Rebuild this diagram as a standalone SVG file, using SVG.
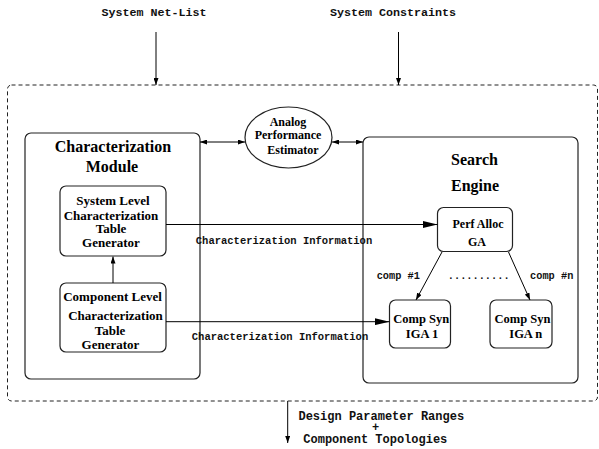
<svg xmlns="http://www.w3.org/2000/svg" width="599" height="449" viewBox="0 0 599 449">
<style>
.box{fill:none;stroke:#222;stroke-width:1.2}
.mono{font-family:"Liberation Mono","Courier New",monospace;font-weight:bold;fill:#111}
.serif{font-family:"Liberation Serif","Times New Roman",serif;font-weight:bold;fill:#000;text-anchor:middle}
.ln{fill:none;stroke:#000;stroke-width:1}
</style>
<defs>
<marker id="big" markerUnits="userSpaceOnUse" viewBox="0 0 15 7" refX="15" refY="3.5" markerWidth="15" markerHeight="7" orient="auto"><path d="M0,0 L15,3.5 L0,7 z" fill="#000"/></marker>
<marker id="sm" markerUnits="userSpaceOnUse" viewBox="0 0 7 5" refX="7" refY="2.5" markerWidth="7" markerHeight="5" orient="auto-start-reverse"><path d="M0,0 L7,2.5 L0,5 z" fill="#000"/></marker>
</defs>
<rect id="system-boundary" x="7.5" y="85" width="590" height="316" rx="4" fill="none" stroke="#222" stroke-width="1" stroke-dasharray="4,3"/>
<g id="inputs">
<text class="mono" x="154" y="15.5" font-size="11.7" text-anchor="middle">System Net-List</text>
<text class="mono" x="393" y="15.5" font-size="11.7" text-anchor="middle">System Constraints</text>
</g>
<g id="characterization-module">
<rect class="box" x="25" y="133" width="175" height="246" rx="6"/>
<text class="serif" x="113" y="152.3" font-size="16">Characterization</text>
<text class="serif" x="112" y="172" font-size="16">Module</text>
</g>
<g id="system-level-generator">
<rect class="box" x="60" y="186" width="106" height="70" rx="6"/>
<text class="serif" font-size="13"><tspan x="113" y="205.3">System Level</tspan><tspan x="111" y="219.5">Characterization</tspan><tspan x="111" y="232.8">Table</tspan><tspan x="111" y="247.2">Generator</tspan></text>
</g>
<g id="component-level-generator">
<rect class="box" x="60" y="283" width="106" height="69" rx="6"/>
<text class="serif" font-size="13"><tspan x="112.5" y="301.2">Component Level</tspan><tspan x="115.5" y="320.2">Characterization</tspan><tspan x="110" y="334.5">Table</tspan><tspan x="110.5" y="348.5">Generator</tspan></text>
</g>
<g id="performance-estimator">
<ellipse class="box" cx="288.5" cy="137.5" rx="43.5" ry="30.5"/>
<text class="serif" font-size="12"><tspan x="288" y="125.5">Analog</tspan><tspan x="288" y="139">Performance</tspan><tspan x="293" y="154">Estimator</tspan></text>
</g>
<g id="search-engine">
<rect class="box" x="363" y="137" width="215" height="246" rx="6"/>
<text class="serif" x="474.5" y="165" font-size="16">Search</text>
<text class="serif" x="475" y="190.6" font-size="16">Engine</text>
</g>
<g id="perf-alloc-ga">
<rect class="box" x="437.5" y="207.5" width="75" height="44" rx="6"/>
<text class="serif" font-size="12"><tspan x="478" y="227.5">Perf Alloc</tspan><tspan x="477" y="246">GA</tspan></text>
</g>
<g id="comp-syn-iga-1">
<rect class="box" x="389.5" y="300" width="61" height="48" rx="6"/>
<text class="serif" font-size="12.5"><tspan x="421.3" y="323.4">Comp Syn</tspan><tspan x="422" y="337.7">IGA 1</tspan></text>
</g>
<g id="comp-syn-iga-n">
<rect class="box" x="490" y="300" width="62" height="48" rx="6"/>
<text class="serif" font-size="12.5"><tspan x="522.5" y="323.4">Comp Syn</tspan><tspan x="525.8" y="337.7">IGA n</tspan></text>
</g>
<g id="connectors">
<line class="ln" x1="156" y1="32" x2="156" y2="85" marker-end="url(#sm)"/>
<line class="ln" x1="398.5" y1="32" x2="398.5" y2="85" marker-end="url(#sm)"/>
<line class="ln" x1="200" y1="142" x2="245" y2="142" marker-start="url(#sm)" marker-end="url(#sm)"/>
<line class="ln" x1="332" y1="142" x2="363" y2="142" marker-start="url(#sm)" marker-end="url(#sm)"/>
<line class="ln" x1="113" y1="283" x2="113" y2="256.5" marker-end="url(#sm)"/>
<line class="ln" x1="166" y1="224.5" x2="437.5" y2="224.5" marker-end="url(#big)"/>
<line class="ln" x1="166" y1="321.7" x2="389.5" y2="321.7" marker-end="url(#big)"/>
<line class="ln" x1="442" y1="252" x2="416" y2="300" marker-end="url(#sm)"/>
<line class="ln" x1="508.5" y1="252" x2="530" y2="300" marker-end="url(#sm)"/>
<line class="ln" x1="287.7" y1="401" x2="287.7" y2="443" marker-end="url(#sm)"/>
<text class="mono" x="284" y="243.5" font-size="10.5" text-anchor="middle">Characterization Information</text>
<text class="mono" x="280" y="340.2" font-size="10.5" text-anchor="middle">Characterization Information</text>
<text class="mono" x="398.3" y="278.5" font-size="10.3" text-anchor="middle">comp #1</text>
<text class="mono" x="551.7" y="278.5" font-size="10.3" text-anchor="middle">comp #n</text>
<text class="mono" x="478.7" y="278.5" font-size="10.3" text-anchor="middle">..........</text>
<text class="mono" x="381.3" y="420" font-size="12" text-anchor="middle">Design Parameter Ranges</text>
<text class="mono" x="375.7" y="430.5" font-size="12" text-anchor="middle">+</text>
<text class="mono" x="375.3" y="443" font-size="12" text-anchor="middle">Component Topologies</text>
</g>
</svg>
